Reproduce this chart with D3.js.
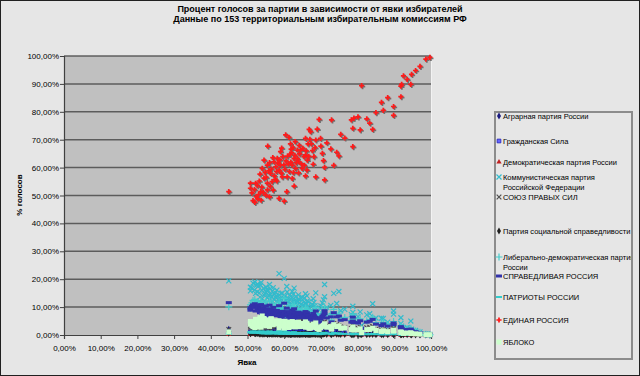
<!DOCTYPE html>
<html>
<head>
<meta charset="utf-8">
<script src="https://cdn.jsdelivr.net/npm/d3@7"></script>
<style>
  body { margin: 0; background: #e6e6e6; }
  svg { display: block; font-family: "Liberation Sans", Arial, sans-serif; }
</style>
</head>
<body>
<script>
// turnout per commission (fraction in %)
var turnout = [
  44.9, 50.8, 50.8, 51.2, 51.5, 51.9, 52.0, 52.2, 52.4, 52.7,
  52.8, 53.0, 53.2, 53.4, 53.6, 53.7, 53.9, 54.0, 54.3, 54.5,
  54.5, 54.8, 55.0, 55.1, 55.4, 55.4, 55.4, 55.5, 55.8, 56.0,
  56.0, 56.2, 56.3, 56.5, 56.7, 56.9, 57.0, 57.2, 57.3, 57.6,
  57.7, 57.9, 58.0, 58.1, 58.3, 58.6, 58.6, 58.8, 59.0, 59.0,
  59.2, 59.3, 59.5, 59.6, 59.9, 60.0, 60.2, 60.4, 60.5, 60.7,
  60.8, 60.9, 61.1, 61.3, 61.4, 61.6, 61.7, 61.8, 61.9, 62.0,
  62.2, 62.2, 62.4, 62.5, 62.7, 62.7, 62.9, 63.0, 63.1, 63.3,
  63.6, 63.6, 63.9, 64.0, 64.1, 64.2, 64.5, 64.7, 64.9, 65.1,
  65.4, 65.5, 65.8, 65.8, 65.8, 66.0, 66.2, 66.3, 66.5, 66.7,
  66.8, 67.0, 67.2, 67.4, 67.7, 67.9, 68.1, 68.4, 68.6, 68.6,
  69.0, 69.5, 69.9, 70.0, 70.4, 70.7, 71.0, 71.0, 71.6, 72.7,
  72.9, 73.5, 74.3, 74.9, 75.4, 76.5, 78.3, 78.7, 78.7, 79.0,
  80.1, 80.7, 81.1, 82.5, 83.3, 84.1, 85.0, 86.5, 87.0, 88.2,
  89.8, 89.8, 91.8, 91.8, 92.0, 92.5, 93.5, 94.5, 94.7, 95.8,
  97.0, 98.6, 99.7
];
var er = [
  51.4, 54.4, 52.6, 50.9, 48.2, 52.1, 47.5, 54.4, 49.6, 53.5,
  48.8, 50.3, 55.2, 57.7, 51.4, 48.3, 53.0, 59.7, 51.0, 56.2,
  62.7, 58.3, 50.1, 56.5, 52.0, 54.4, 60.9, 67.7, 58.9, 61.8,
  49.5, 53.3, 57.9, 59.5, 55.0, 63.6, 51.9, 62.1, 57.0, 55.8,
  60.3, 58.6, 55.2, 63.3, 61.6, 59.1, 49.0, 62.8, 60.9, 65.7,
  58.0, 67.0, 56.7, 63.9, 61.0, 48.0, 59.4, 71.7, 62.4, 51.4,
  56.7, 64.1, 61.3, 70.8, 58.6, 64.8, 68.5, 62.0, 66.6, 65.4,
  60.9, 56.1, 67.2, 58.2, 63.3, 53.4, 64.4, 69.3, 59.7, 61.8,
  66.3, 63.2, 58.1, 62.1, 68.0, 64.9, 66.3, 61.3, 59.7, 66.9,
  63.9, 60.8, 70.5, 64.5, 57.0, 66.0, 59.1, 62.7, 68.5, 64.0,
  73.7, 70.1, 72.9, 68.5, 66.1, 61.2, 63.9, 67.2, 69.9, 56.7,
  73.8, 77.3, 70.5, 67.7, 65.1, 62.5, 60.1, 55.6, 68.9, 66.7,
  77.1, 60.8, 65.5, 64.2, 71.9, 70.6, 77.1, 74.1, 67.5, 77.7,
  78.2, 73.5, 89.4, 77.5, 75.9, 73.7, 79.7, 83.4, 80.5, 85.1,
  81.9, 78.7, 85.4, 89.2, 89.8, 92.9, 91.6, 89.8, 93.4, 94.8,
  96.3, 98.9, 99.5
];
var kprf = [
  19.4, 15.8, 17.1, 16.9, 18.6, 16.2, 19.0, 14.9, 17.8, 15.5,
  18.2, 17.5, 15.1, 13.6, 17.9, 18.8, 16.0, 13.0, 16.7, 14.4,
  12.1, 14.8, 17.2, 15.3, 16.4, 15.9, 13.3, 10.2, 14.1, 12.6,
  18.1, 16.6, 14.5, 13.8, 15.7, 12.0, 17.0, 12.9, 14.6, 15.2,
  13.4, 14.0, 16.1, 11.8, 12.7, 14.3, 22.0, 12.4, 13.1, 11.0,
  14.9, 10.6, 15.0, 11.5, 13.2, 20.3, 13.9, 8.9, 12.5, 17.4,
  15.4, 11.9, 13.0, 9.3, 14.2, 11.4, 10.1, 12.8, 10.8, 11.1,
  13.5, 15.6, 10.4, 14.7, 12.2, 16.8, 11.7, 9.8, 13.7, 12.3,
  10.9, 12.0, 14.4, 12.9, 10.3, 11.6, 11.0, 13.1, 13.6, 10.7,
  11.8, 13.3, 9.5, 11.3, 14.8, 11.2, 14.0, 12.2, 10.0, 11.9,
  8.2, 9.6, 8.6, 10.2, 11.0, 13.0, 11.7, 10.5, 9.7, 15.1,
  8.0, 7.1, 9.4, 10.4, 11.5, 12.6, 13.7, 18.1, 9.9, 10.6,
  7.0, 14.9, 11.3, 15.6, 8.7, 9.2, 7.3, 8.1, 10.3, 6.9,
  6.6, 8.3, 3.4, 7.2, 7.6, 11.2, 6.1, 6.0, 5.9, 4.6,
  7.5, 8.6, 6.2, 4.1, 3.2, 2.3, 2.7, 5.0, 2.1, 1.6,
  1.1, 0.4, 0.2
];
var ldpr = [
  10.1, 9.6, 10.8, 11.5, 12.4, 10.9, 12.8, 9.9, 11.7, 10.4,
  12.0, 11.4, 9.8, 9.1, 11.2, 12.3, 10.6, 8.7, 11.1, 9.4,
  8.2, 9.3, 11.9, 9.7, 10.7, 10.0, 8.6, 7.4, 9.0, 8.3,
  12.2, 10.5, 9.2, 8.9, 10.2, 8.0, 11.3, 8.4, 9.5, 9.9,
  8.8, 9.3, 10.1, 7.9, 8.5, 9.1, 11.8, 8.3, 8.7, 7.6,
  9.4, 7.2, 9.8, 7.8, 8.6, 13.1, 9.0, 6.4, 8.2, 11.0,
  9.7, 8.0, 8.9, 6.6, 9.2, 7.7, 7.1, 8.4, 7.5, 7.9,
  8.8, 10.3, 7.3, 9.6, 8.1, 10.9, 7.8, 6.9, 9.0, 8.3,
  7.6, 8.2, 9.5, 8.6, 7.0, 7.9, 7.4, 8.7, 9.1, 7.3,
  8.1, 8.9, 6.7, 7.8, 9.7, 7.5, 9.2, 8.4, 7.0, 8.0,
  5.9, 6.8, 6.1, 7.2, 7.6, 8.8, 7.9, 7.3, 6.9, 9.9,
  5.8, 5.1, 6.5, 7.1, 7.7, 8.3, 8.9, 10.1, 6.9, 7.5,
  5.3, 9.2, 7.4, 7.8, 6.0, 6.3, 5.2, 5.7, 7.4, 5.0,
  4.9, 5.8, 2.6, 5.1, 5.5, 6.4, 4.4, 3.9, 4.5, 3.6,
  4.1, 4.8, 3.3, 2.9, 2.7, 1.9, 2.2, 2.4, 1.8, 1.4,
  1.0, 0.3, 0.1
];
var sr = [
  11.6, 8.9, 9.7, 10.3, 10.8, 9.9, 11.2, 8.6, 10.5, 9.3,
  10.6, 10.1, 8.7, 8.0, 9.8, 10.9, 9.2, 7.6, 9.6, 8.4,
  7.1, 8.1, 10.4, 8.5, 9.4, 8.8, 7.6, 6.4, 8.0, 7.3,
  10.7, 9.1, 8.2, 7.8, 8.9, 7.0, 9.9, 7.4, 8.3, 8.6,
  7.7, 8.0, 8.8, 6.9, 7.5, 8.1, 10.5, 7.2, 7.6, 6.6,
  8.2, 6.2, 8.5, 6.8, 7.5, 11.4, 7.9, 5.6, 7.1, 9.6,
  8.4, 7.0, 7.7, 5.9, 8.0, 6.7, 6.3, 7.3, 6.5, 6.9,
  7.6, 8.9, 6.4, 8.3, 7.0, 9.4, 6.8, 6.0, 7.8, 7.2,
  6.6, 7.1, 8.2, 7.4, 6.2, 6.9, 6.5, 7.6, 7.9, 6.4,
  7.0, 7.8, 5.8, 6.8, 8.4, 6.5, 8.0, 7.3, 6.1, 7.0,
  5.2, 5.9, 5.4, 6.3, 6.6, 7.7, 6.9, 6.4, 6.0, 8.6,
  5.1, 4.6, 5.7, 6.2, 6.7, 7.2, 7.7, 8.7, 6.1, 6.5,
  4.7, 8.0, 6.5, 6.8, 5.3, 5.5, 4.6, 5.0, 6.4, 4.5,
  4.3, 5.1, 2.4, 4.6, 4.9, 5.6, 3.9, 3.4, 4.0, 3.2,
  3.7, 4.3, 3.0, 2.6, 2.4, 1.7, 2.0, 2.1, 1.6, 1.2,
  0.8, 0.2, 0.1
];
var agr = [
  2.1, 3.4, 2.9, 3.8, 4.2, 3.1, 4.6, 3.2, 3.9, 2.7,
  4.1, 3.6, 2.8, 2.5, 3.3, 4.4, 3.0, 2.4, 3.7, 2.9,
  2.2, 2.6, 3.5, 2.8, 3.2, 3.0, 2.3, 1.9, 2.7, 2.1,
  4.0, 3.1, 2.6, 2.4, 2.9, 2.0, 3.4, 2.2, 2.7, 2.8,
  2.4, 2.5, 2.9, 1.9, 2.3, 2.6, 4.3, 2.1, 2.2, 1.8,
  2.6, 1.7, 2.8, 2.0, 2.3, 4.8, 2.4, 1.5, 2.1, 3.3,
  2.7, 2.0, 2.2, 1.6, 2.5, 1.9, 1.7, 2.2, 1.8, 2.0,
  2.3, 2.9, 1.8, 2.6, 2.1, 3.2, 1.9, 1.6, 2.4, 2.2,
  1.9, 2.1, 2.7, 2.2, 1.7, 2.0, 1.8, 2.3, 2.5, 1.8,
  2.1, 2.4, 1.6, 2.0, 2.8, 1.9, 2.6, 2.2, 1.7, 2.1,
  1.5, 1.7, 1.5, 1.8, 1.9, 2.3, 2.0, 1.8, 1.7, 2.9,
  1.4, 1.2, 1.6, 1.8, 1.9, 2.1, 2.3, 2.8, 1.7, 1.9,
  1.3, 2.6, 2.0, 2.1, 1.5, 1.6, 1.3, 1.4, 1.9, 1.2,
  1.2, 1.5, 0.7, 1.3, 1.4, 1.6, 1.1, 0.9, 1.1, 0.9,
  1.0, 1.2, 0.8, 0.7, 0.7, 0.5, 0.6, 0.6, 0.4, 0.3,
  0.2, 0.1, 0.0
];
var gs = [
  1.2, 0.9, 1.1, 1.4, 1.3, 1.0, 1.6, 0.8, 1.2, 1.0,
  1.5, 1.3, 0.9, 0.8, 1.1, 1.4, 1.0, 0.7, 1.2, 0.9,
  0.7, 0.8, 1.3, 0.9, 1.1, 1.0, 0.8, 0.6, 0.9, 0.7,
  1.4, 1.1, 0.8, 0.8, 1.0, 0.7, 1.2, 0.7, 0.9, 0.9,
  0.8, 0.9, 1.0, 0.6, 0.8, 0.9, 1.5, 0.7, 0.8, 0.6,
  0.9, 0.6, 0.9, 0.7, 0.8, 1.6, 0.8, 0.5, 0.7, 1.1,
  0.9, 0.7, 0.8, 0.5, 0.9, 0.7, 0.6, 0.8, 0.6, 0.7,
  0.8, 1.0, 0.6, 0.9, 0.7, 1.1, 0.7, 0.5, 0.8, 0.7,
  0.6, 0.7, 0.9, 0.7, 0.6, 0.7, 0.6, 0.8, 0.8, 0.6,
  0.7, 0.8, 0.5, 0.7, 0.9, 0.6, 0.8, 0.7, 0.6, 0.7,
  0.5, 0.6, 0.5, 0.6, 0.6, 0.8, 0.7, 0.6, 0.6, 0.9,
  0.5, 0.4, 0.5, 0.6, 0.6, 0.7, 0.8, 0.9, 0.6, 0.6,
  0.4, 0.8, 0.6, 0.7, 0.5, 0.5, 0.4, 0.5, 0.6, 0.4,
  0.4, 0.5, 0.2, 0.4, 0.4, 0.5, 0.3, 0.3, 0.3, 0.3,
  0.3, 0.4, 0.3, 0.2, 0.2, 0.2, 0.2, 0.2, 0.1, 0.1,
  0.1, 0.0, 0.0
];
var sps = [
  2.0, 2.8, 3.3, 2.5, 2.2, 3.0, 1.9, 3.6, 2.4, 3.1,
  2.1, 2.6, 3.4, 3.9, 2.7, 2.0, 3.2, 4.1, 2.5, 3.5,
  4.3, 3.7, 2.4, 3.8, 3.0, 3.3, 4.0, 4.6, 3.6, 4.2,
  2.2, 3.1, 3.9, 4.4, 3.4, 4.7, 2.6, 4.5, 3.7, 3.2,
  4.1, 4.3, 3.5, 4.8, 4.2, 3.9, 2.3, 5.0, 4.4, 5.3,
  3.8, 5.1, 3.6, 5.4, 4.6, 1.8, 4.0, 4.2, 5.2, 2.9,
  3.9, 5.5, 4.7, 3.9, 4.3, 5.6, 4.5, 4.9, 5.1, 5.7,
  4.4, 3.6, 5.0, 4.1, 5.8, 3.3, 5.3, 4.0, 4.5, 5.9,
  4.8, 5.4, 3.9, 5.6, 4.2, 5.0, 4.6, 5.5, 4.3, 3.8,
  5.2, 4.6, 3.5, 4.9, 3.4, 4.5, 4.1, 5.1, 3.7, 4.8,
  2.9, 3.6, 3.1, 3.9, 4.4, 5.0, 4.2, 3.8, 3.3, 3.7,
  2.8, 2.4, 3.2, 3.5, 4.0, 4.5, 4.7, 3.9, 3.4, 3.6,
  2.5, 4.1, 3.8, 3.3, 2.9, 2.7, 2.3, 2.6, 3.4, 2.2,
  2.4, 2.9, 1.3, 2.6, 2.8, 3.1, 2.1, 1.8, 2.0, 1.7,
  2.2, 2.5, 1.6, 1.4, 1.3, 0.9, 1.1, 1.2, 0.8, 0.6,
  0.4, 0.1, 0.1
];
var pss = [
  0.6, 0.4, 0.5, 0.7, 0.8, 0.5, 0.9, 0.4, 0.6, 0.5,
  0.7, 0.6, 0.4, 0.3, 0.5, 0.8, 0.5, 0.3, 0.6, 0.4,
  0.3, 0.4, 0.6, 0.4, 0.5, 0.5, 0.3, 0.2, 0.4, 0.3,
  0.8, 0.5, 0.4, 0.3, 0.4, 0.3, 0.6, 0.3, 0.4, 0.4,
  0.3, 0.4, 0.5, 0.3, 0.3, 0.4, 0.9, 0.3, 0.3, 0.2,
  0.4, 0.2, 0.4, 0.3, 0.3, 1.0, 0.4, 0.2, 0.3, 0.6,
  0.4, 0.3, 0.3, 0.2, 0.4, 0.3, 0.2, 0.3, 0.2, 0.3,
  0.4, 0.5, 0.2, 0.4, 0.3, 0.6, 0.3, 0.2, 0.4, 0.3,
  0.3, 0.3, 0.4, 0.3, 0.2, 0.3, 0.2, 0.3, 0.4, 0.2,
  0.3, 0.4, 0.2, 0.3, 0.5, 0.3, 0.4, 0.3, 0.2, 0.3,
  0.2, 0.2, 0.2, 0.3, 0.3, 0.4, 0.3, 0.3, 0.2, 0.5,
  0.2, 0.1, 0.2, 0.2, 0.3, 0.3, 0.4, 0.5, 0.2, 0.3,
  0.1, 0.4, 0.3, 0.3, 0.2, 0.2, 0.1, 0.2, 0.3, 0.1,
  0.1, 0.2, 0.1, 0.1, 0.2, 0.2, 0.1, 0.1, 0.1, 0.1,
  0.1, 0.2, 0.1, 0.1, 0.1, 0.1, 0.1, 0.1, 0.0, 0.0,
  0.0, 0.0, 0.0
];
var yabloko = [
  1.1, 4.8, 3.9, 3.4, 3.0, 4.5, 2.7, 5.6, 3.2, 4.9,
  2.9, 3.5, 5.3, 6.2, 3.8, 2.8, 4.6, 6.8, 3.6, 5.4,
  5.9, 5.5, 3.3, 5.1, 4.2, 4.7, 5.0, 3.9, 5.2, 4.4,
  3.1, 4.3, 5.7, 5.8, 4.6, 4.1, 3.7, 4.6, 5.0, 4.8,
  4.6, 4.9, 4.4, 4.0, 4.3, 5.1, 2.6, 4.2, 4.7, 3.6,
  4.8, 3.2, 4.7, 3.9, 4.4, 2.5, 4.9, 2.8, 4.3, 3.8,
  4.5, 3.7, 4.1, 2.7, 4.6, 3.5, 3.0, 4.0, 3.4, 3.6,
  4.2, 4.8, 3.1, 4.5, 3.8, 4.4, 3.3, 2.9, 4.3, 3.9,
  3.5, 3.8, 4.6, 3.6, 3.0, 3.4, 3.1, 3.7, 4.1, 3.2,
  3.6, 4.0, 2.8, 3.3, 4.7, 3.2, 4.2, 3.6, 2.9, 3.4,
  2.4, 2.8, 2.5, 3.0, 3.2, 3.9, 3.3, 3.0, 2.7, 4.3,
  2.3, 2.0, 2.6, 2.9, 3.1, 3.5, 3.8, 4.0, 2.8, 3.0,
  2.1, 3.7, 3.0, 3.2, 2.4, 2.5, 1.9, 2.2, 2.8, 1.8,
  1.8, 2.2, 0.9, 1.9, 2.0, 2.4, 1.6, 1.3, 1.5, 1.2,
  1.4, 1.7, 1.1, 0.9, 0.9, 0.6, 0.7, 0.8, 0.5, 0.4,
  0.3, 0.1, 0.1
];
var patr = [
  0.5, 0.9, 1.1, 0.8, 1.3, 1.0, 1.2, 0.9, 1.1, 0.8,
  1.2, 1.0, 0.8, 0.7, 1.0, 1.3, 0.9, 0.6, 1.1, 0.8,
  0.6, 0.7, 1.2, 0.8, 1.0, 0.9, 0.7, 0.5, 0.8, 0.6,
  1.3, 0.9, 0.7, 0.7, 0.9, 0.6, 1.1, 0.6, 0.8, 0.8,
  0.7, 0.8, 0.9, 0.5, 0.7, 0.8, 1.4, 0.6, 0.7, 0.5,
  0.8, 0.5, 0.8, 0.6, 0.7, 1.5, 0.7, 0.4, 0.6, 1.0,
  0.8, 0.6, 0.7, 0.4, 0.8, 0.6, 0.5, 0.7, 0.5, 0.6,
  0.7, 0.9, 0.5, 0.8, 0.6, 1.0, 0.6, 0.4, 0.7, 0.6,
  0.5, 0.6, 0.8, 0.6, 0.5, 0.6, 0.5, 0.7, 0.7, 0.5,
  0.6, 0.7, 0.4, 0.6, 0.8, 0.5, 0.7, 0.6, 0.5, 0.6,
  0.4, 0.5, 0.4, 0.5, 0.5, 0.7, 0.6, 0.5, 0.5, 0.8,
  0.4, 0.3, 0.4, 0.5, 0.5, 0.6, 0.7, 0.8, 0.5, 0.5,
  0.3, 0.7, 0.5, 0.6, 0.4, 0.4, 0.3, 0.4, 0.5, 0.3,
  0.3, 0.4, 0.2, 0.3, 0.3, 0.4, 0.3, 0.2, 0.3, 0.2,
  0.3, 0.3, 0.2, 0.2, 0.2, 0.1, 0.1, 0.2, 0.1, 0.1,
  0.1, 0.0, 0.0
];
var dpr = [
  0.2, 0.3, 0.2, 0.3, 0.4, 0.2, 0.3, 0.2, 0.3, 0.2,
  0.3, 0.3, 0.2, 0.2, 0.3, 0.4, 0.2, 0.1, 0.3, 0.2,
  0.1, 0.2, 0.3, 0.2, 0.2, 0.2, 0.2, 0.1, 0.2, 0.1,
  0.3, 0.2, 0.2, 0.2, 0.2, 0.1, 0.3, 0.1, 0.2, 0.2,
  0.2, 0.2, 0.2, 0.1, 0.2, 0.2, 0.4, 0.1, 0.2, 0.1,
  0.2, 0.1, 0.2, 0.1, 0.2, 0.4, 0.2, 0.1, 0.1, 0.3,
  0.2, 0.1, 0.2, 0.1, 0.2, 0.1, 0.1, 0.2, 0.1, 0.1,
  0.2, 0.2, 0.1, 0.2, 0.1, 0.3, 0.1, 0.1, 0.2, 0.1,
  0.1, 0.2, 0.2, 0.1, 0.1, 0.1, 0.1, 0.2, 0.2, 0.1,
  0.1, 0.2, 0.1, 0.1, 0.2, 0.1, 0.2, 0.1, 0.1, 0.1,
  0.1, 0.1, 0.1, 0.1, 0.1, 0.2, 0.1, 0.1, 0.1, 0.2,
  0.1, 0.1, 0.1, 0.1, 0.1, 0.1, 0.2, 0.2, 0.1, 0.1,
  0.1, 0.2, 0.1, 0.1, 0.1, 0.1, 0.1, 0.1, 0.1, 0.1,
  0.1, 0.1, 0.0, 0.1, 0.1, 0.1, 0.1, 0.0, 0.1, 0.0,
  0.1, 0.1, 0.0, 0.0, 0.0, 0.0, 0.0, 0.0, 0.0, 0.0,
  0.0, 0.0, 0.0
];

var titleLines = ["Процент голосов за партии в зависимости от явки избирателей",
                  "Данные по 153 территориальным избирательным комиссиям РФ"];
var tickValues = [0, 10, 20, 30, 40, 50, 60, 70, 80, 90, 100];

// series in Excel drawing order (Yabloko last, on top)
var series = [
  {name: ["Аграрная партия России"], values: agr, shape: "diamond", fill: "#1a1a80", size: 14},
  {name: ["Гражданская Сила"], values: gs, shape: "square", fill: "#6666ff", stroke: "#2222bb", size: 14},
  {name: ["Демократическая партия России"], values: dpr, shape: "triangle", fill: "#c02020", size: 12},
  {name: ["Коммунистическая партия", "Российской Федерации"], values: kprf, shape: "times", stroke: "#33bbcc", size: 18},
  {name: ["СОЮЗ ПРАВЫХ СИЛ"], values: sps, shape: "times", stroke: "#505050", size: 16},
  {name: ["Партия социальной справедливости"], values: pss, shape: "diamond", fill: "#202020", size: 14},
  {name: ["Либерально-демократическая партия", "России"], values: ldpr, shape: "plus", stroke: "#44cccc", size: 18},
  {name: ["СПРАВЕДЛИВАЯ РОССИЯ"], values: sr, shape: "dash", fill: "#3333aa", w: 6, h: 3},
  {name: ["ПАТРИОТЫ РОССИИ"], values: patr, shape: "dash", fill: "#33cccc", w: 6, h: 2},
  {name: ["ЕДИНАЯ РОССИЯ"], values: er, shape: "cross", fill: "#ff1a1a", size: 15, shadow: true},
  {name: ["ЯБЛОКО"], values: yabloko, shape: "square", fill: "#ccffcc", size: 26}
];
var legendY = [116, 141, 162, 177, 197, 231, 257, 276, 297, 320, 342];

var W = 640, H = 376;
var plot = {left: 64, top: 56, right: 431, bottom: 335};

var svg = d3.select("body").append("svg").attr("width", W).attr("height", H);
svg.append("rect").attr("x", 0.5).attr("y", 0.5).attr("width", W - 1).attr("height", H - 1)
  .attr("fill", "#e6e6e6").attr("stroke", "#202020");

var x = d3.scaleLinear().domain([0, 100]).range([plot.left, plot.right]);
var y = d3.scaleLinear().domain([0, 100]).range([plot.bottom, plot.top]);

var loc = d3.formatLocale({decimal: ",", thousands: " ", grouping: [3], currency: ["", ""]});
var pct = loc.format(".2f");

// title
svg.append("g").selectAll("text").data(titleLines).enter().append("text")
  .attr("x", 320).attr("y", function(d, i) { return 12 + i * 10; })
  .attr("text-anchor", "middle").attr("font-size", 9).attr("font-weight", "bold")
  .text(function(d) { return d; });

// plot area
svg.append("rect").attr("x", plot.left).attr("y", plot.top)
  .attr("width", plot.right - plot.left).attr("height", plot.bottom - plot.top)
  .attr("fill", "#c0c0c0");
svg.append("line").attr("x1", plot.left).attr("x2", plot.right).attr("y1", plot.top - 0.5).attr("y2", plot.top - 0.5)
  .attr("stroke", "#f2f2f2");
svg.append("line").attr("x1", plot.right + 0.5).attr("x2", plot.right + 0.5).attr("y1", plot.top).attr("y2", plot.bottom)
  .attr("stroke", "#f2f2f2");

// gridlines
svg.append("g").selectAll("line").data(tickValues.slice(1)).enter().append("line")
  .attr("x1", plot.left).attr("x2", plot.right)
  .attr("y1", function(d) { return y(d); }).attr("y2", function(d) { return y(d); })
  .attr("stroke", "#5c5c5c").attr("stroke-width", 1.5);

// axes
var yAxis = svg.append("g").attr("transform", "translate(" + plot.left + ",0)")
  .call(d3.axisLeft(y).tickValues(tickValues).tickSize(4).tickFormat(function(d) { return pct(d) + "%"; }));
var xAxis = svg.append("g").attr("transform", "translate(0," + plot.bottom + ")")
  .call(d3.axisBottom(x).tickValues(tickValues).tickSize(4).tickFormat(function(d) { return pct(d) + "%"; }));
[xAxis, yAxis].forEach(function(a) {
  a.select(".domain").attr("stroke", "#404040").attr("stroke-width", 1.2);
  a.selectAll(".tick line").attr("stroke", "#404040");
  a.selectAll(".tick text").attr("font-size", 8).attr("fill", "#000")
    .attr("font-family", "'Liberation Sans', Arial, sans-serif");
});
xAxis.selectAll(".tick text").attr("dy", "1.1em");
yAxis.selectAll(".tick text").attr("x", -5);

svg.append("text").attr("x", 247).attr("y", 365).attr("text-anchor", "middle")
  .attr("font-size", 8).attr("font-weight", "bold").text("Явка");
svg.append("text").attr("transform", "translate(22,195) rotate(-90)").attr("text-anchor", "middle")
  .attr("font-size", 8).attr("font-weight", "bold").text("% голосов");

// marker drawing
function drawMarker(sel, s) {
  if (s.shape === "dash") {
    sel.append("rect").attr("x", -s.w / 2).attr("y", -s.h / 2).attr("width", s.w).attr("height", s.h)
      .attr("fill", s.fill);
    return;
  }
  var types = {diamond: d3.symbolDiamond, square: d3.symbolSquare, triangle: d3.symbolTriangle,
               times: d3.symbolTimes, plus: d3.symbolPlus, cross: d3.symbolCross};
  var p = sel.append("path").attr("d", d3.symbol().type(types[s.shape]).size(s.size)());
  if (s.shape === "times" || s.shape === "plus") {
    p.attr("fill", "none").attr("stroke", s.stroke).attr("stroke-width", 1.2);
  } else {
    p.attr("fill", s.fill).attr("stroke", s.stroke || "none").attr("stroke-width", 0.8);
  }
}

var points = svg.append("g");
series.forEach(function(s) {
  var g = points.append("g");
  var pts = turnout.map(function(t, i) { return [t, s.values[i]]; });
  if (s.shadow) {
    g.selectAll("path.sh").data(pts).enter().append("path").attr("class", "sh")
      .attr("transform", function(d) { return "translate(" + (x(d[0]) + 1) + "," + (y(d[1]) + 1) + ")"; })
      .attr("d", d3.symbol().type(d3.symbolCross).size(s.size)())
      .attr("fill", "#707070");
  }
  g.selectAll("g.pt").data(pts).enter().append("g").attr("class", "pt")
    .attr("transform", function(d) { return "translate(" + x(d[0]) + "," + y(d[1]) + ")"; })
    .each(function() { drawMarker(d3.select(this), s); });
});

// legend
var lg = {x: 495, y: 112, w: 137, h: 247};
svg.append("clipPath").attr("id", "lgclip").append("rect")
  .attr("x", lg.x).attr("y", lg.y).attr("width", lg.w - 1).attr("height", lg.h);
svg.append("rect").attr("x", lg.x).attr("y", lg.y).attr("width", lg.w).attr("height", lg.h)
  .attr("fill", "#e6e6e6").attr("stroke", "#8c8c8c").attr("stroke-width", 2);
var legend = svg.append("g").attr("clip-path", "url(#lgclip)");
series.forEach(function(s, i) {
  var it = legend.append("g").attr("transform", "translate(499," + legendY[i] + ")");
  drawMarker(it.append("g"), s);
  it.selectAll("text").data(s.name).enter().append("text")
    .attr("x", 4).attr("y", function(d, j) { return 3 + j * 10; })
    .attr("font-size", 7.5).text(function(d) { return d; });
});
</script>
</body>
</html>
